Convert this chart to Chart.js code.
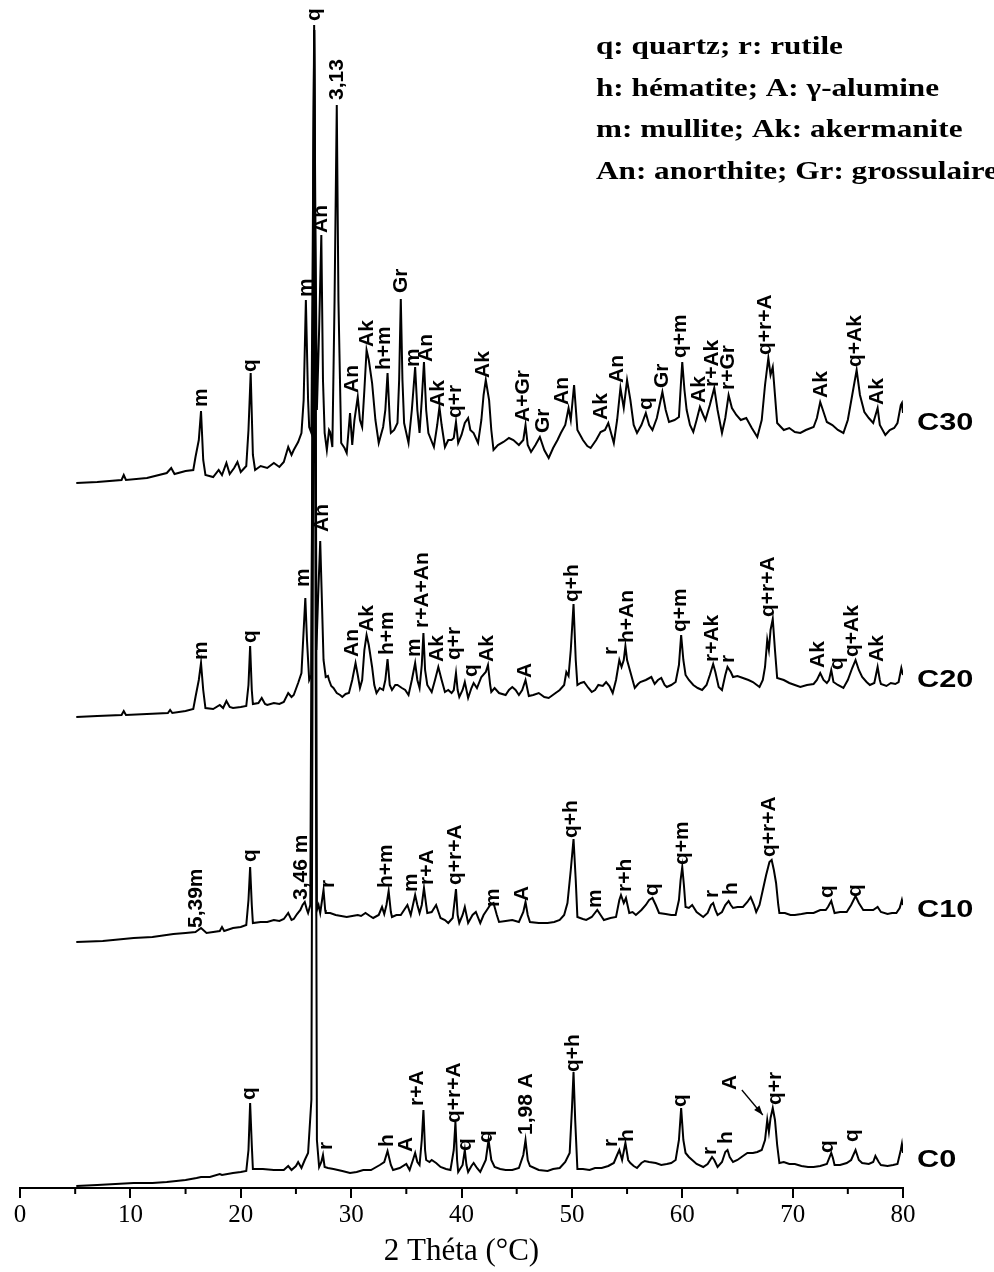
<!DOCTYPE html>
<html>
<head>
<meta charset="utf-8">
<script src="https://cdn.jsdelivr.net/npm/chart.js@4"></script>
<style>
  body { margin: 0; background: #fff; }
  #wrap { width: 994px; height: 1272px; position: relative; }
</style>
</head>
<body>
<div id="wrap"><canvas id="xrd"></canvas></div>
<script>
// 2-theta (deg) / intensity (a.u.) pairs
var c30 = [[5.1,5],[7.0,6],[9.2,8],[9.4,13],[9.6,8],[11.5,10],[13.3,15],[13.7,20],[14.0,14],[15.0,17],[15.7,18],[15.9,31],[16.2,48],[16.4,77],[16.6,28],[16.8,13],[17.5,11],[18.0,18],[18.3,13],[18.7,25],[19.0,14],[19.4,20],[19.7,26],[20.0,16],[20.5,22],[20.7,58],[20.9,115],[21.1,33],[21.3,18],[21.8,22],[22.4,20],[23.0,25],[23.5,21],[23.9,26],[24.3,41],[24.6,33],[24.8,38],[25.2,46],[25.5,55],[25.7,88],[25.9,188],[26.1,88],[26.2,61],[26.4,55],[26.55,288],[26.65,463],[26.75,288],[26.9,78],[27.1,158],[27.3,253],[27.45,108],[27.6,55],[27.8,38],[28.0,58],[28.1,56],[28.3,41],[28.5,188],[28.7,383],[28.85,188],[29.1,45],[29.4,40],[29.6,35],[29.9,75],[30.1,43],[30.3,68],[30.6,91],[30.8,68],[31.0,61],[31.2,98],[31.4,138],[31.6,128],[31.9,105],[32.2,68],[32.5,45],[32.7,53],[32.9,61],[33.1,78],[33.3,115],[33.5,68],[33.6,55],[33.9,58],[34.2,65],[34.35,108],[34.5,189],[34.65,108],[34.8,65],[35.2,45],[35.5,78],[35.8,121],[36.0,78],[36.2,55],[36.4,88],[36.6,126],[36.8,78],[37.0,55],[37.5,41],[37.8,63],[38.0,81],[38.2,63],[38.5,41],[38.8,48],[39.1,48],[39.3,50],[39.5,66],[39.7,45],[40.0,53],[40.3,65],[40.6,70],[40.8,58],[41.1,55],[41.5,45],[41.8,68],[42.0,93],[42.2,108],[42.5,88],[42.7,58],[42.9,38],[43.3,43],[43.8,46],[44.3,50],[44.7,48],[45.2,43],[45.6,48],[45.8,63],[46.0,43],[46.3,36],[46.7,43],[47.1,51],[47.5,38],[47.9,30],[48.3,40],[48.7,48],[49.0,55],[49.4,63],[49.7,80],[49.9,68],[50.2,103],[50.5,58],[51.0,48],[51.4,42],[51.7,40],[52.2,48],[52.6,56],[53.0,58],[53.3,65],[53.6,53],[53.8,45],[54.1,68],[54.4,100],[54.7,80],[55.0,108],[55.3,88],[55.6,63],[55.9,55],[56.3,63],[56.7,75],[57.0,63],[57.3,58],[57.7,70],[58.2,96],[58.5,78],[58.8,66],[59.3,68],[59.7,71],[59.9,108],[60.0,126],[60.2,98],[60.4,78],[60.7,63],[61.0,56],[61.3,68],[61.6,81],[61.9,73],[62.1,68],[62.5,83],[62.9,100],[63.2,78],[63.6,55],[63.9,70],[64.2,93],[64.5,80],[64.9,73],[65.3,68],[65.8,70],[66.3,60],[66.8,51],[67.2,68],[67.5,103],[67.8,130],[68.0,113],[68.2,121],[68.4,93],[68.6,65],[69.2,58],[69.7,60],[70.2,56],[70.7,55],[71.2,58],[71.9,61],[72.2,70],[72.5,86],[72.8,76],[73.1,66],[73.6,63],[74.1,58],[74.6,55],[75.0,68],[75.4,93],[75.8,118],[76.1,93],[76.5,76],[76.9,70],[77.3,65],[77.7,80],[77.9,63],[78.4,53],[78.8,58],[79.2,60],[79.5,65],[79.8,83],[79.9,85],[80.0,75]];

var c20 = [[5.1,3],[7.0,4],[9.2,5],[9.4,9],[9.6,5],[11.5,6],[13.4,7],[13.6,10],[13.8,7],[15.0,9],[15.7,11],[15.9,23],[16.2,40],[16.4,57],[16.6,30],[16.8,12],[17.5,11],[18.1,15],[18.4,12],[18.7,19],[19.0,13],[19.3,12],[20.0,13],[20.5,14],[20.7,35],[20.85,74],[21.0,30],[21.1,16],[21.6,17],[21.9,22],[22.2,16],[22.4,15],[23.0,17],[23.5,16],[23.9,18],[24.3,27],[24.6,23],[24.8,25],[25.2,37],[25.5,47],[25.7,90],[25.85,122],[26.0,80],[26.2,40],[26.4,45],[26.55,420],[26.65,690],[26.75,420],[26.85,70],[27.0,120],[27.2,179],[27.35,120],[27.5,60],[27.7,43],[27.9,44],[28.0,40],[28.2,34],[28.4,32],[28.7,27],[29.0,25],[29.2,23],[29.5,26],[29.8,27],[30.1,40],[30.4,57],[30.6,45],[30.8,32],[31.0,40],[31.2,70],[31.4,85],[31.6,75],[31.9,53],[32.1,35],[32.3,27],[32.6,32],[32.9,30],[33.1,40],[33.3,61],[33.5,35],[33.7,30],[34.0,35],[34.2,35],[34.6,32],[34.9,30],[35.2,25],[35.5,40],[35.8,57],[36.0,40],[36.2,32],[36.4,55],[36.55,87],[36.7,50],[36.9,35],[37.3,28],[37.6,40],[37.9,53],[38.2,40],[38.5,28],[38.8,30],[39.1,27],[39.3,30],[39.5,47],[39.65,30],[39.8,23],[40.1,30],[40.3,38],[40.6,22],[40.9,32],[41.1,37],[41.4,32],[41.8,43],[42.2,48],[42.4,55],[42.6,35],[42.7,28],[43.0,32],[43.4,27],[44.0,25],[44.3,30],[44.6,33],[44.9,30],[45.2,25],[45.5,30],[45.8,40],[46.1,24],[46.5,25],[47.0,27],[47.5,23],[47.9,22],[48.4,26],[48.9,30],[49.3,35],[49.5,48],[49.7,44],[49.9,70],[50.15,116],[50.35,60],[50.5,35],[50.8,37],[51.1,38],[51.5,32],[51.8,28],[52.1,30],[52.4,35],[52.8,34],[53.1,38],[53.4,34],[53.7,27],[54.0,40],[54.3,60],[54.5,53],[54.7,60],[54.85,74],[55.0,60],[55.3,48],[55.5,40],[55.7,32],[56.0,36],[56.2,38],[56.7,40],[57.2,43],[57.5,36],[57.8,40],[58.1,42],[58.4,35],[58.6,33],[59.0,35],[59.4,38],[59.7,55],[59.9,85],[60.1,60],[60.3,45],[60.6,40],[61.0,35],[61.4,32],[61.8,30],[62.2,35],[62.5,45],[62.8,56],[63.0,48],[63.3,33],[63.6,30],[63.9,45],[64.1,53],[64.4,48],[64.6,43],[65.0,44],[65.5,42],[66.0,40],[66.4,38],[67.0,33],[67.3,40],[67.5,53],[67.7,80],[67.85,70],[68.0,90],[68.2,101],[68.4,70],[68.6,42],[69.2,40],[69.7,37],[70.2,35],[70.7,33],[71.3,35],[71.9,36],[72.2,40],[72.5,47],[72.8,40],[73.1,37],[73.3,40],[73.5,50],[73.7,38],[74.1,35],[74.6,32],[75.0,40],[75.4,52],[75.7,60],[76.0,50],[76.3,43],[76.7,38],[77.0,35],[77.4,37],[77.7,53],[77.9,40],[78.0,36],[78.5,34],[78.9,37],[79.3,36],[79.6,38],[79.85,52],[80.0,45]];

var c10 = [[5.1,3],[7.5,4],[10.3,7],[12.0,8],[13.9,11],[15.0,12],[15.9,13],[16.4,17],[16.9,12],[17.5,13],[18.1,14],[18.3,18],[18.5,14],[19.3,17],[20.0,18],[20.5,20],[20.7,45],[20.85,78],[21.0,40],[21.1,22],[21.8,23],[22.4,23],[23.0,25],[23.5,24],[23.9,26],[24.3,32],[24.6,25],[24.8,26],[25.1,31],[25.4,35],[25.6,40],[25.8,43],[26.0,35],[26.1,32],[26.3,40],[26.5,545],[26.65,915],[26.8,545],[26.9,35],[27.05,40],[27.2,32],[27.5,55],[27.65,35],[27.7,32],[28.1,32],[28.6,30],[29.1,29],[29.6,28],[30.1,29],[30.6,30],[30.9,29],[31.3,32],[31.7,29],[32.0,27],[32.5,30],[32.8,38],[33.0,31],[33.2,40],[33.4,54],[33.6,33],[33.7,28],[34.1,30],[34.5,30],[34.8,35],[35.1,40],[35.4,30],[35.6,40],[35.8,50],[36.0,40],[36.2,32],[36.4,40],[36.6,57],[36.8,40],[36.9,32],[37.3,33],[37.7,40],[38.1,27],[38.5,25],[38.8,22],[39.2,27],[39.5,56],[39.65,30],[39.8,22],[40.1,30],[40.3,38],[40.6,22],[41.0,30],[41.3,33],[41.7,22],[42.0,30],[42.3,35],[42.6,40],[42.9,42],[43.2,30],[43.4,23],[44.0,24],[44.6,25],[45.2,23],[45.6,33],[45.8,43],[46.0,30],[46.2,23],[47.0,22],[47.8,22],[48.4,23],[48.9,25],[49.3,30],[49.6,42],[49.9,75],[50.15,106],[50.35,65],[50.5,28],[51.0,26],[51.3,25],[51.8,28],[52.3,35],[52.6,30],[52.9,25],[53.5,27],[54.0,28],[54.3,45],[54.45,50],[54.7,42],[54.9,47],[55.2,32],[55.5,33],[55.8,30],[56.3,35],[56.7,40],[57.0,45],[57.3,47],[57.6,40],[57.9,32],[58.5,31],[59.0,30],[59.4,30],[59.7,45],[59.85,65],[60.0,78],[60.15,60],[60.3,38],[60.6,37],[60.9,40],[61.3,33],[61.9,28],[62.3,32],[62.6,40],[62.8,42],[63.0,35],[63.2,30],[63.6,33],[63.9,40],[64.2,44],[64.4,40],[64.6,37],[65.0,38],[65.5,38],[65.9,43],[66.2,48],[66.5,40],[66.7,33],[67.0,40],[67.3,55],[67.6,70],[67.9,83],[68.1,85],[68.3,75],[68.5,62],[68.7,40],[68.8,32],[69.3,32],[69.8,30],[70.2,30],[70.8,31],[71.3,32],[71.9,32],[72.5,35],[73.0,35],[73.2,38],[73.5,44],[73.65,38],[73.8,32],[74.3,33],[74.9,33],[75.3,40],[75.7,49],[76.0,42],[76.4,35],[76.9,35],[77.3,35],[77.7,38],[78.0,33],[78.6,31],[79.0,32],[79.4,32],[79.7,37],[79.9,45],[80.0,40]];

var c0 = [[5.1,2],[7.0,3],[10.3,5],[12.0,5],[13.3,6],[15.0,8],[16.0,10],[16.4,11],[17.2,11],[18.1,14],[18.3,13],[19.3,15],[20.0,16],[20.5,17],[20.7,38],[20.85,85],[21.0,43],[21.1,19],[22.0,19],[23.0,18],[23.9,18],[24.3,22],[24.6,18],[25.0,22],[25.2,26],[25.5,20],[25.8,28],[26.1,35],[26.4,88],[26.55,688],[26.65,1158],[26.75,688],[26.9,48],[27.1,21],[27.3,26],[27.45,33],[27.6,21],[27.9,20],[28.4,19],[29.2,17],[29.9,15],[30.5,16],[31.1,18],[31.8,18],[32.6,23],[33.0,26],[33.3,37],[33.6,23],[33.8,18],[34.4,20],[35.0,24],[35.3,18],[35.6,28],[35.8,35],[36.0,26],[36.2,23],[36.4,48],[36.55,78],[36.7,38],[36.8,28],[37.1,26],[37.3,28],[37.7,25],[38.1,21],[38.6,19],[39.0,18],[39.3,38],[39.45,66],[39.6,28],[39.7,16],[40.1,23],[40.3,38],[40.45,23],[40.6,16],[40.9,22],[41.1,25],[41.4,20],[41.7,16],[42.2,28],[42.45,48],[42.7,28],[43.0,21],[43.5,19],[44.0,18],[44.6,18],[45.2,20],[45.6,33],[45.8,48],[46.0,28],[46.2,22],[47.0,18],[47.8,17],[48.3,19],[48.9,20],[49.4,26],[49.8,35],[50.0,78],[50.15,116],[50.3,68],[50.5,19],[51.0,19],[51.6,18],[52.1,20],[52.7,20],[53.3,22],[53.8,25],[54.1,33],[54.3,38],[54.55,28],[54.85,45],[55.1,28],[55.3,25],[55.6,22],[55.9,20],[56.3,25],[56.6,27],[57.0,26],[57.6,25],[58.1,23],[58.6,24],[59.0,25],[59.4,28],[59.7,48],[59.9,80],[60.1,48],[60.3,35],[60.6,31],[60.9,28],[61.3,24],[61.9,21],[62.3,24],[62.7,31],[62.9,28],[63.2,21],[63.6,26],[63.9,36],[64.1,38],[64.3,31],[64.6,26],[65.0,28],[65.5,32],[65.9,35],[66.4,35],[66.8,36],[67.2,38],[67.5,48],[67.7,68],[67.85,56],[68.0,70],[68.2,80],[68.4,68],[68.6,43],[68.8,25],[69.2,26],[69.7,24],[70.2,24],[70.8,22],[71.4,21],[71.9,21],[72.5,22],[73.1,24],[73.5,35],[73.65,30],[73.8,23],[74.3,23],[74.9,25],[75.3,28],[75.7,38],[76.0,28],[76.3,25],[76.9,24],[77.3,26],[77.5,32],[77.8,26],[78.0,23],[78.6,22],[79.1,23],[79.5,24],[79.8,38],[79.9,44],[80.0,35]];

var sampleNames = ['C0', 'C10', 'C20', 'C30'];
var sampleOffsets = [0, 243, 468, 700];

// phase labels: [text, 2-theta, intensity level]
var labelsC30 = [['m',16.4,81],['q',20.9,116],['m',25.9,191],['q',26.7,467],['An',27.3,255],['3,13',28.7,388],['An',30.1,95],['Ak',31.5,141],['h+m',33.0,118],['Gr',34.5,195],['m',35.6,121],['An',36.8,126],['Ak',37.9,81],['q+r',39.4,70],['Ak',42.0,110],['A+Gr',45.6,66],['Gr',47.4,55],['An',49.1,83],['Ak',52.7,68],['An',54.1,105],['q',56.7,78],['Gr',58.2,100],['q+m',59.8,130],['Ak',61.5,85],['r+Ak',62.7,101],['r+Gr',64.2,98],['q+r+A',67.5,133],['Ak',72.6,90],['q+Ak',75.7,121],['Ak',77.7,83]];
var labelsC20 = [['m',16.4,60],['q',20.85,77],['m',25.7,133],['An',27.4,188],['An',30.1,63],['Ak',31.5,88],['h+m',33.3,65],['m',35.7,63],['r+A+An',36.4,92],['Ak',37.8,58],['q+r',39.3,60],['q',40.9,43],['Ak',42.3,58],['A',45.8,42],['q+h',50.0,118],['r',53.6,65],['h+An',55.0,77],['q+m',59.8,88],['r+Ak',62.7,58],['r',64.2,57],['q+r+A',67.8,103],['Ak',72.3,52],['q',74.0,50],['q+Ak',75.4,63],['Ak',77.7,58]];
var labelsC10 = [['5,39m',16.0,17],['q',20.85,83],['3,46 m',25.5,45],['r',27.9,57],['h+m',33.2,57],['m',35.4,53],['r+A',36.9,60],['q+r+A',39.4,60],['m',42.9,38],['A',45.5,44],['q+h',49.9,107],['m',52.1,37],['r+h',54.8,53],['q',57.3,49],['q+m',60.0,80],['r',62.7,47],['h',64.4,50],['q+r+A',67.9,88],['q',73.1,47],['q',75.7,48]];
var labelsC0 = [['q',20.8,88],['r',27.7,38],['h',33.3,41],['A',35.0,36],['r+A',36.0,82],['q+r+A',39.3,65],['q',40.3,37],['q',42.2,45],['1,98 A',45.9,53],['q+h',50.15,116],['r',53.6,41],['h',55.0,46],['q',59.8,81],['r',62.5,33],['h',64.0,44],['A',64.3,98],['q+r',68.4,83],['q',73.1,35],['q',75.4,46]];

var legendLines = ['q: quartz; r: rutile', 'h: hématite; A: \u03b3-alumine', 'm: mullite; Ak: akermanite', 'An: anorthite; Gr: grossulaire'];

var allData = [c0, c10, c20, c30];
var allLabels = [labelsC0, labelsC10, labelsC20, labelsC30];
var nameLevel = [28, 35, 40, 65];

var datasets = allData.map(function(d, i) {
  return {
    label: sampleNames[i],
    data: d.map(function(p) { return { x: p[0], y: p[1] + sampleOffsets[i] }; }),
    borderColor: '#000',
    borderWidth: 2,
    pointRadius: 0,
    tension: 0,
    fill: false
  };
});

var extras = {
  id: 'extras',
  afterDatasetsDraw: function(chart) {
    var ctx = chart.ctx, x = chart.scales.x, y = chart.scales.y;
    ctx.save();
    ctx.fillStyle = '#000';
    ctx.strokeStyle = '#000';

    // minor ticks
    ctx.lineWidth = 2;
    for (var v = 5; v < 80; v += 10) {
      var px = x.getPixelForValue(v);
      ctx.beginPath();
      ctx.moveTo(px, x.top);
      ctx.lineTo(px, x.top + 6);
      ctx.stroke();
    }

    // peak labels, rotated
    ctx.font = 'bold 21px "Liberation Sans", Arial, sans-serif';
    ctx.textAlign = 'left';
    ctx.textBaseline = 'middle';
    allLabels.forEach(function(list, i) {
      list.forEach(function(l) {
        ctx.save();
        ctx.translate(x.getPixelForValue(l[1]), y.getPixelForValue(l[2] + sampleOffsets[i]));
        ctx.rotate(-Math.PI / 2);
        ctx.fillText(l[0], 0, 0);
        ctx.restore();
      });
    });

    // sample names on the right
    ctx.font = 'bold 24px "Liberation Sans", Arial, sans-serif';
    sampleNames.forEach(function(n, i) {
      ctx.save();
      ctx.translate(917, y.getPixelForValue(nameLevel[i] + sampleOffsets[i]));
      ctx.scale(1.28, 1);
      ctx.fillText(n, 0, 0);
      ctx.restore();
    });

    // arrow for the A shoulder on C0
    var ax1 = x.getPixelForValue(65.4), ay1 = y.getPixelForValue(98);
    var ax2 = x.getPixelForValue(67.3), ay2 = y.getPixelForValue(73);
    ctx.lineWidth = 1.3;
    ctx.beginPath();
    ctx.moveTo(ax1, ay1);
    ctx.lineTo(ax2, ay2);
    ctx.stroke();
    var ang = Math.atan2(ay2 - ay1, ax2 - ax1);
    ctx.beginPath();
    ctx.moveTo(ax2, ay2);
    ctx.lineTo(ax2 - 10 * Math.cos(ang - 0.35), ay2 - 10 * Math.sin(ang - 0.35));
    ctx.lineTo(ax2 - 10 * Math.cos(ang + 0.35), ay2 - 10 * Math.sin(ang + 0.35));
    ctx.closePath();
    ctx.fill();

    // phase legend
    ctx.font = 'bold 26px "Liberation Serif", "Times New Roman", serif';
    ctx.textBaseline = 'alphabetic';
    legendLines.forEach(function(t, i) {
      ctx.save();
      ctx.translate(596, 54 + i * 41.5);
      ctx.scale(1.2, 1);
      ctx.fillText(t, 0, 0);
      ctx.restore();
    });
    ctx.restore();
  }
};

new Chart(document.getElementById('xrd'), {
  type: 'line',
  data: { datasets: datasets },
  options: {
    responsive: true,
    maintainAspectRatio: false,
    animation: false,
    layout: { padding: { left: 20, right: 91, top: 0, bottom: 0 } },
    plugins: { legend: { display: false }, tooltip: { enabled: false } },
    scales: {
      x: {
        type: 'linear',
        min: 0,
        max: 80,
        afterFit: function(s) { s.height = 84; },
        border: { display: true, color: '#000', width: 2 },
        grid: { drawOnChartArea: false, drawTicks: true, tickLength: 10, color: '#000', lineWidth: 2 },
        ticks: { stepSize: 10, color: '#000', padding: 2, maxRotation: 0,
                 font: { family: '"Liberation Serif", "Times New Roman", serif', size: 25 } },
        title: { display: true, text: '2 Théta (°C)', color: '#000', padding: { top: 0, bottom: 2 },
                 font: { family: '"Liberation Serif", "Times New Roman", serif', size: 31 } }
      },
      y: { display: false, min: 0, max: 1188 }
    }
  },
  plugins: [extras]
});
</script>
</body>
</html>
